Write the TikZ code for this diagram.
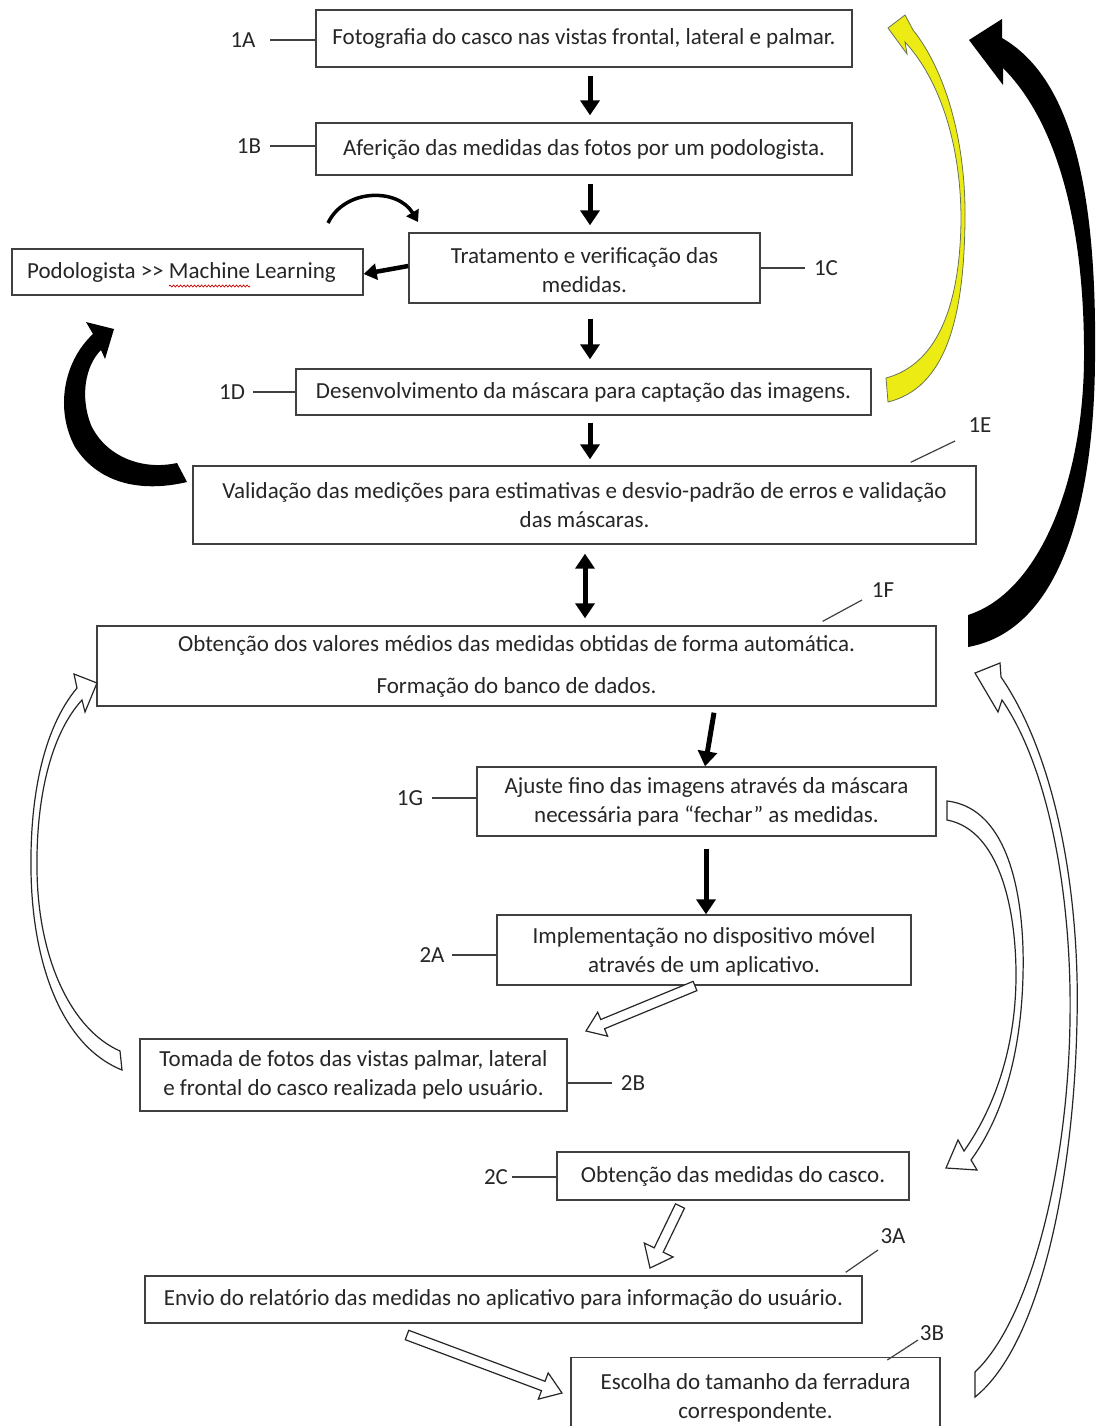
\documentclass[tikz,border=0pt]{standalone}
\usepackage{fontspec}
\setmainfont{Carlito}
\usetikzlibrary{arrows.meta,calc,decorations.pathmorphing}
\definecolor{ylw}{RGB}{236,236,20}
\definecolor{ylwline}{RGB}{105,115,80}
\newcommand{\hollowarrow}[5]{%
  \coordinate (hbc) at ($(#2)!#5!(#1)$);
  \filldraw[hollow] ($(#1)!#3!90:(#2)$) -- ($(hbc)!#3!90:(#2)$) -- ($(hbc)!#4!90:(#2)$) -- (#2)
    -- ($(hbc)!#4!-90:(#2)$) -- ($(hbc)!#3!-90:(#2)$) -- ($(#1)!#3!-90:(#2)$) -- cycle;
}
\begin{document}
\begin{tikzpicture}[x=1pt,y=-1pt,
  box/.style={draw=black!75, line width=1.4pt, align=center, inner sep=0pt, font=\fontsize{23}{29}\selectfont, text=black!85},
  lbl/.style={font=\fontsize{23}{27}\selectfont, text=black!85, inner sep=1pt},
  lead/.style={draw=black!75, line width=1.2pt},
  blk/.style={line width=5pt, -{Triangle[length=15pt,width=19pt]}},
  hollow/.style={draw=black!85, line width=1.2pt, fill=white, line join=miter},
]
\useasboundingbox (0,0) rectangle (1097,1426);
\clip (0,0) rectangle (1097,1426);
\fill[white] (0,0) rectangle (1097,1426);

% boxes
\node[box, minimum width=536pt, minimum height=57pt] (b1A) at (584,38.5) {Fotografia do casco nas vistas frontal, lateral e palmar.};
\node[box, minimum width=536pt, minimum height=52pt] (b1B) at (584,149) {Aferição das medidas das fotos por um podologista.};
\node[box, minimum width=351pt, minimum height=70pt] (b1C) at (584.5,268) {\rule{0pt}{20pt}Tratamento e verificação das\\medidas.};
\node[box, minimum width=351pt, minimum height=46pt] (bML) at (187.5,272) {\hspace*{-12pt}Podologista >{}> Machine Learning};
\node[box, minimum width=575pt, minimum height=46pt] (b1D) at (583.5,392) {Desenvolvimento da máscara para captação das imagens.};
\node[box, minimum width=783pt, minimum height=78pt] (b1E) at (584.5,505) {Validação das medições para estimativas e desvio-padrão de erros e validação\\das máscaras.};
\node[box, minimum width=839pt, minimum height=80pt] (b1F) at (516.5,666) {Obtenção dos valores médios das medidas obtidas de forma automática.\\[13pt]Formação do banco de dados.};
\node[box, minimum width=459pt, minimum height=69pt] (b1G) at (706.5,801.5) {Ajuste fino das imagens através da máscara\\necessária para “fechar” as medidas.};
\node[box, minimum width=414pt, minimum height=70pt] (b2A) at (704,950) {\rule{0pt}{20pt}Implementação no dispositivo móvel\\através de um aplicativo.};
\node[box, minimum width=427pt, minimum height=72pt] (b2B) at (353.5,1075) {Tomada de fotos das vistas palmar, lateral\\e frontal do casco realizada pelo usuário.};
\node[box, minimum width=352pt, minimum height=48pt] (b2C) at (733,1176) {Obtenção das medidas do casco.};
\node[box, minimum width=717pt, minimum height=47pt] (b3A) at (503.5,1299.5) {Envio do relatório das medidas no aplicativo para informação do usuário.};
\node[box, minimum width=369pt, minimum height=84pt, anchor=north] (b3B) at (755.5,1357) {};
\node[font=\fontsize{23}{29}\selectfont, text=black!85, align=center] (t3B) at (755.5,1398) {Escolha do tamanho da ferradura\\correspondente.};

% wavy spell-check underline
\draw[red!80!black, line width=0.7pt, decorate, decoration={snake, amplitude=1pt, segment length=3.5pt}] (169,286) -- (250,286);

% labels
\node[lbl] (l1A) at (243,40) {1A};
\node[lbl] (l1B) at (249,146) {1B};
\node[lbl] (l1C) at (826,268) {1C};
\node[lbl] (l1D) at (232,392) {1D};
\node[lbl] (l1E) at (980,425) {1E};
\node[lbl] (l1F) at (883,590) {1F};
\node[lbl] (l1G) at (410,798) {1G};
\node[lbl] (l2A) at (432,955) {2A};
\node[lbl] (l2B) at (633,1083) {2B};
\node[lbl] (l2C) at (496,1177) {2C};
\node[lbl] (l3A) at (893,1236) {3A};
\node[lbl] (l3B) at (932,1333) {3B};

\draw[lead] (270,40) -- (b1A.west |- l1A);
\draw[lead] (270,146) -- (b1B.west |- l1B);
\draw[lead] (b1C.east |- l1C) -- (805,268);
\draw[lead] (253,392) -- (b1D.west |- l1D);
\draw[lead] ($(b1E.north east)+(-66,-3)$) -- ($(l1E)+(-25,16)$);
\draw[lead] ($(b1F.north east)+(-114,-4)$) -- ($(l1F)+(-21,10)$);
\draw[lead] (432,798) -- (b1G.west |- l1G);
\draw[lead] (452,955) -- (b2A.west |- l2A);
\draw[lead] (b2B.east |- l2B) -- (612,1083);
\draw[lead] (512,1177) -- (b2C.west |- l2C);
\draw[lead] ($(b3A.north east)+(-17,-3)$) -- ($(l3A)+(-15,14)$);
\draw[lead] ($(b3B.north west)+(317,3)$) -- ($(l3B)+(-14,7)$);

% straight black arrows
\draw[blk] ([xshift=6pt,yshift=-8pt]b1A.south) -- ([xshift=6pt,yshift=7pt]b1B.north);
\draw[blk] ([xshift=6pt,yshift=-8pt]b1B.south) -- ([xshift=5.5pt,yshift=7pt]b1C.north);
\draw[blk] ([xshift=5.5pt,yshift=-15pt]b1C.south) -- ([xshift=6.5pt,yshift=9pt]b1D.north);
\draw[blk] ([xshift=6.5pt,yshift=-7pt]b1D.south) -- ([xshift=5.5pt,yshift=6pt]b1E.north);
\draw[line width=5pt, {Triangle[length=15pt,width=19pt]}-{Triangle[length=15pt,width=19pt]}] ([xshift=0.5pt,yshift=-9pt]b1E.south) -- ([xshift=68.5pt,yshift=7pt]b1F.north);
\draw[blk] ([xshift=197.5pt,yshift=-6pt]b1F.south) -- ([xshift=-1.5pt]b1G.north);
\draw[blk] ([xshift=-0.5pt,yshift=-12pt]b1G.south) -- ([xshift=2pt]b2A.north);
\draw[line width=4.5pt, -{Triangle[length=13pt,width=16pt]}] ([yshift=2pt]b1C.west) -- ([yshift=-2pt]bML.east);

% small curved arrow above 1C
\coordinate (ca1) at (328,223);
\coordinate (ca2) at (418,222);
\draw[line width=3.5pt, -{Triangle[length=11pt,width=14pt]}] (ca1) .. controls (345,188) and (398,188) .. (ca2);

% left black curved arrow (1E -> ML)
\fill[black] (93,334) .. controls (63,362) and (55,410) .. (75,447) .. controls (100,486) and (145,492) .. (187,482)
  -- (177,463) .. controls (140,471) and (105,455) .. (91,425) .. controls (80,397) and (85,366) .. (101,350)
  -- (105,359) -- (114,329) -- (86,322) -- cycle;

% right black curved arrow (1F -> 1A)
\fill[black] (1003,68) -- (1003,85) -- (969,40) -- (1002,19) -- (1002,38)
  .. controls (1075,80) and (1097,200) .. (1095,360) .. controls (1094,500) and (1062,630) .. (968,647)
  -- (968,615) .. controls (1040,592) and (1083,480) .. (1084,360) .. controls (1085,220) and (1055,120) .. (1003,68) -- cycle;

% yellow curved arrow (1D -> 1A)
\filldraw[fill=ylw, draw=ylwline, line width=0.8pt] (905,42) -- (907,54) -- (888,28) -- (905,15) -- (913,30)
  .. controls (945,70) and (966,140) .. (965,220) .. controls (964,320) and (945,388) .. (888,402)
  -- (886,378) .. controls (935,365) and (960,310) .. (961,220) .. controls (961,145) and (940,80) .. (905,42) -- cycle;

% hollow curved arrow left (2B -> 1F)
\filldraw[hollow] (77,688) .. controls (42,730) and (30,800) .. (31,870) .. controls (32,960) and (60,1045) .. (122,1070)
  -- (120,1051) .. controls (72,1030) and (38,960) .. (37,870) .. controls (36,800) and (50,735) .. (82,700)
  -- (85,712) -- (97,683) -- (74,674) -- cycle;

% hollow curved arrow right (1G -> 2C)
\filldraw[hollow] (947,801) .. controls (1010,808) and (1025,900) .. (1023,975) .. controls (1021,1060) and (1000,1120) .. (971,1160)
  -- (977,1170) -- (946,1168) -- (958,1140) -- (964,1151)
  .. controls (993,1110) and (1016,1050) .. (1016,975) .. controls (1016,910) and (1000,830) .. (947,820) -- cycle;

% hollow curved arrow far right (3B -> 1F)
\filldraw[hollow] (1001,677) .. controls (1058,760) and (1080,900) .. (1077,1020) .. controls (1074,1180) and (1040,1345) .. (975,1397)
  -- (975,1372) .. controls (1030,1320) and (1068,1170) .. (1070,1020) .. controls (1072,900) and (1050,770) .. (1002,700)
  -- (998,712) -- (975,673) -- (1000,663) -- cycle;

% straight hollow arrows
\coordinate (hs1) at (695,986);  \coordinate (ht1) at (586,1031);
\hollowarrow{hs1}{ht1}{5pt}{13pt}{18pt}
\coordinate (hs2) at (680,1206); \coordinate (ht2) at (650,1268);
\hollowarrow{hs2}{ht2}{5pt}{16pt}{20pt}
\coordinate (hs3) at (407,1335); \coordinate (ht3) at (562,1393);
\hollowarrow{hs3}{ht3}{5pt}{14pt}{20pt}
\end{tikzpicture}
\end{document}
